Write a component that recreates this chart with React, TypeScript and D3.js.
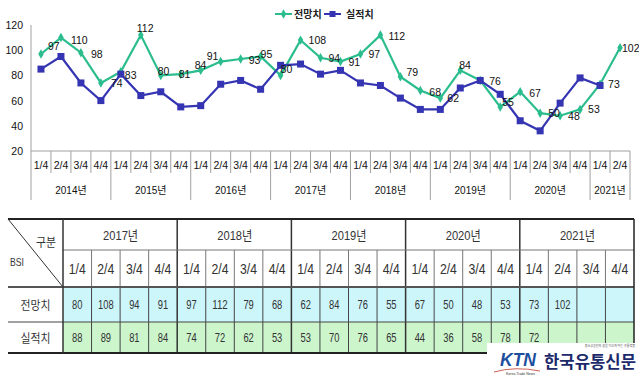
import React from "react";
import * as d3 from "d3";

const years = ["2014년", "2015년", "2016년", "2017년", "2018년", "2019년", "2020년", "2021년"];
const quarters = ["1/4", "2/4", "3/4", "4/4"];
const seriesNames = ["전망치", "실적치"];
// 전망치 (forecast) 2014 1/4 .. 2021 2/4
const forecast = [97, 110, 98, 74, 83, 112, 80, 81, 84, 91, 93, 95, 80, 108, 94, 91, 97, 112, 79, 68, 62, 84, 76, 55, 67, 50, 48, 53, 73, 102];
// 실적치 (actual) 2014 1/4 .. 2021 1/4
const actual = [85, 95, 74, 60, 81, 64, 67, 55, 56, 73, 76, 69, 88, 89, 81, 84, 74, 72, 62, 53, 53, 70, 76, 65, 44, 36, 58, 78, 72];
const yTicks = [20, 40, 60, 80, 100, 120];
const tableYears = ["2017년", "2018년", "2019년", "2020년", "2021년"];
const tableStartIndex = 12;

// label offsets (style only): [dx to text start, dy to text centre]
const labelOffsets: [number, number][] = [
  [7, -8], [10, 2], [10, 1], [10, 0], [4, 3], [-4, -7], [-3, -4], [-2, 0], [-6, -5], [-14, -6],
  [8, 1], [0, -3], [0, -6], [8, 0], [8, 0], [8, 0], [8, 0], [8, 1], [6, -5], [9, 1],
  [7, 0], [-1, -5], [9, 1], [2, -5], [9, 1], [8, 0], [8, 0], [8, 0], [8, 0], [2, 0],
];

const GREEN = "#2bbd8e";
const BLUE = "#3535b3";
const FONT = "'Liberation Sans', Arial, 'Noto Sans CJK KR', sans-serif";
const KR = "'Noto Sans CJK KR', sans-serif";
const AXIS = "#a0a0a0";

const cats: { year: string; q: string; key: string }[] = [];
years.forEach((y) => quarters.forEach((q) => cats.push({ year: y, q, key: y + q })));
const categories = cats.slice(0, forecast.length);

export default function App() {
  const W = 639, H = 379;
  const x = d3.scaleBand<string>().domain(categories.map((c) => c.key)).range([31, 630]).padding(0);
  const y = d3.scaleLinear().domain([20, 120]).range([151, 25]);
  const cx = (i: number) => (x(categories[i].key) as number) + x.bandwidth() / 2;
  const line = d3.line<number>().x((_, i) => cx(i)).y((d) => y(d));

  const yearGroups = years.map((yr) => {
    const idx = categories.map((c, i) => (c.year === yr ? i : -1)).filter((i) => i >= 0);
    const x0 = x(categories[idx[0]].key) as number;
    const x1 = (x(categories[idx[idx.length - 1]].key) as number) + x.bandwidth();
    return { yr, x0, x1 };
  });

  const tLeft = 8, tFirst = 63, tRight = 634;
  const tCats = cats.slice(tableStartIndex, tableStartIndex + tableYears.length * 4);
  const tx = d3.scaleBand<string>().domain(tCats.map((c) => c.key)).range([tFirst, tRight]);
  const rTop = 219, rYear = 250, rQ = 287, rF = 322, rA = 353;
  const numLen = (v: number) => String(v).length * 5.2;

  const diamond = d3.symbol().type(d3.symbolDiamond).size(26)();

  return (
    <div style={{ position: "absolute", left: 0, top: 0, width: W, height: H, background: "#fff" }}>
      <svg width={W} height={H} style={{ display: "block", fontFamily: FONT }}>
        <rect x={0} y={0} width={W} height={H} fill="#fff" />
        {/* legend */}
        <g>
          <line x1={275} x2={292} y1={14} y2={14} stroke={GREEN} strokeWidth={2} />
          <path d={diamond as string} transform="translate(283.5,14)" fill={GREEN} />
          <text x={294} y={18} fontSize={10} fontWeight="bold" fill="#222">{seriesNames[0]}</text>
          <line x1={324} x2={341} y1={14} y2={14} stroke={BLUE} strokeWidth={2} />
          <rect x={329.5} y={11} width={6} height={6} fill={BLUE} />
          <text x={346} y={18} fontSize={10} fontWeight="bold" fill="#222">{seriesNames[1]}</text>
        </g>
        {/* y axis */}
        <line x1={31} x2={31} y1={25} y2={200} stroke={AXIS} />
        {yTicks.map((t) => (
          <text key={t} x={23} y={y(t) + 4} fontSize={10.5} textAnchor="end" fill="#111">{t}</text>
        ))}
        {/* category axis */}
        <line x1={31} x2={630} y1={151} y2={151} stroke={AXIS} />
        {categories.map((c, i) => {
          const x0 = x(c.key) as number;
          const isYearStart = c.q === "1/4";
          return (
            <g key={c.key}>
              {i > 0 && (
                <line x1={x0} x2={x0} y1={151} y2={isYearStart ? 200 : 173} stroke={AXIS} />
              )}
              <text x={cx(i)} y={169} fontSize={10.5} textAnchor="middle" fill="#111">{c.q}</text>
            </g>
          );
        })}
        <line x1={630} x2={630} y1={151} y2={200} stroke={AXIS} />
        {yearGroups.map((g) => (
          <text key={g.yr} x={(g.x0 + g.x1) / 2} y={194} fontSize={10} textAnchor="middle" fill="#111">{g.yr}</text>
        ))}
        {/* series */}
        <path d={line(forecast) as string} fill="none" stroke={GREEN} strokeWidth={2.2} />
        {forecast.map((v, i) => (
          <path key={"gd" + i} d={diamond as string} transform={`translate(${cx(i)},${y(v)})`} fill={GREEN} />
        ))}
        <path d={line(actual) as string} fill="none" stroke={BLUE} strokeWidth={2.2} />
        {actual.map((v, i) => (
          <rect key={"bs" + i} x={cx(i) - 3.5} y={y(v) - 3.5} width={7} height={7} fill={BLUE} />
        ))}
        {forecast.map((v, i) => (
          <text key={"gl" + i} x={cx(i) + labelOffsets[i][0]} y={y(v) + labelOffsets[i][1] + 4} fontSize={10.5} fill="#111">{v}</text>
        ))}

        {/* table */}
        <g fill="#333">
          <rect x={tFirst} y={rQ} width={tRight - tFirst} height={rF - rQ} fill="#cdf6fb" />
          <rect x={tFirst} y={rF} width={tRight - tFirst} height={rA - rF} fill="#ccf5cc" />
          <line x1={tLeft} y1={rTop} x2={tFirst} y2={rQ} stroke="#333" strokeWidth={1} />
          <text x={56} y={247} textAnchor="end" fontSize={12.5} fontFamily={KR} textLength={20} lengthAdjust="spacingAndGlyphs">구분</text>
          <text x={10} y={266} fontSize={11} textLength={14} lengthAdjust="spacingAndGlyphs">BSI</text>
          <text x={(tLeft + tFirst) / 2} y={(rQ + rF) / 2 + 5} textAnchor="middle" fontSize={12.5} fontFamily={KR} textLength={30} lengthAdjust="spacingAndGlyphs">{seriesNames[0]}</text>
          <text x={(tLeft + tFirst) / 2} y={(rF + rA) / 2 + 5} textAnchor="middle" fontSize={12.5} fontFamily={KR} textLength={30} lengthAdjust="spacingAndGlyphs">{seriesNames[1]}</text>
          {tableYears.map((yr, k) => {
            const x0 = tx(tCats[k * 4].key) as number;
            const x1 = (tx(tCats[k * 4 + 3].key) as number) + tx.bandwidth();
            return (
              <g key={yr}>
                <text x={(x0 + x1) / 2 - 17} y={(rTop + rYear) / 2 + 5} fontSize={13} textLength={35} lengthAdjust="spacingAndGlyphs">{yr}</text>
                {k > 0 && <line x1={x0} x2={x0} y1={rTop} y2={rA} stroke="#333" strokeWidth={1.5} />}
              </g>
            );
          })}
          {tCats.map((c, j) => {
            const x0 = tx(c.key) as number;
            const mid = x0 + tx.bandwidth() / 2;
            const fi = tableStartIndex + j;
            return (
              <g key={c.key}>
                {c.q !== "1/4" && (
                  <>
                    <line x1={x0} x2={x0} y1={rYear} y2={rQ} stroke="#777" />
                    <line x1={x0} x2={x0} y1={rQ} y2={rA} stroke="#444" />
                  </>
                )}
                <text x={mid - 8.5} y={(rYear + rQ) / 2 + 5.5} fontSize={14} textLength={17} lengthAdjust="spacingAndGlyphs">{c.q}</text>
                {fi < forecast.length && (
                  <text x={mid - numLen(forecast[fi]) / 2} y={(rQ + rF) / 2 + 4.5} fontSize={13} textLength={numLen(forecast[fi])} lengthAdjust="spacingAndGlyphs">{forecast[fi]}</text>
                )}
                {fi < actual.length && (
                  <text x={mid - numLen(actual[fi]) / 2} y={(rF + rA) / 2 + 4.5} fontSize={13} textLength={numLen(actual[fi])} lengthAdjust="spacingAndGlyphs">{actual[fi]}</text>
                )}
              </g>
            );
          })}
          <line x1={tFirst} x2={tRight} y1={rYear} y2={rYear} stroke="#777" />
          <line x1={tLeft} x2={tRight} y1={rF} y2={rF} stroke="#444" />
          <line x1={tLeft} x2={tRight} y1={rTop} y2={rTop} stroke="#222" strokeWidth={2} />
          <line x1={tLeft} x2={tRight} y1={rQ} y2={rQ} stroke="#555" strokeWidth={2} />
          <line x1={tLeft} x2={tRight} y1={rA} y2={rA} stroke="#222" strokeWidth={2} />
          <line x1={tFirst} x2={tFirst} y1={rTop} y2={rA} stroke="#333" strokeWidth={1.5} />
          <line x1={tRight} x2={tRight} y1={rTop} y2={rA} stroke="#222" strokeWidth={1.5} />
        </g>

        {/* logo */}
        <g>
          <rect x={487} y={343} width={152} height={36} fill="#fff" />
          <text x={635} y={347} fontSize={3} textAnchor="end" fill="#555">중소상공인의 꿈을 이루게 하는 유통명품</text>
          <text x={500} y={366} fontSize={18} fontWeight="bold" fontStyle="italic" fill="#1d4f9e" textLength={36} lengthAdjust="spacingAndGlyphs">KTN</text>
          <path d="M494,372 Q515,366 540,371" fill="none" stroke="#c0392b" strokeWidth={0.8} />
          <text x={506} y={375} fontSize={3.5} fill="#333">Korea Trade News</text>
          <text x={544} y={367.5} fontSize={16.5} fontWeight="bold" fill="#1c2a6b" fontFamily={KR} textLength={92} lengthAdjust="spacingAndGlyphs">한국유통신문</text>
        </g>
      </svg>
    </div>
  );
}
